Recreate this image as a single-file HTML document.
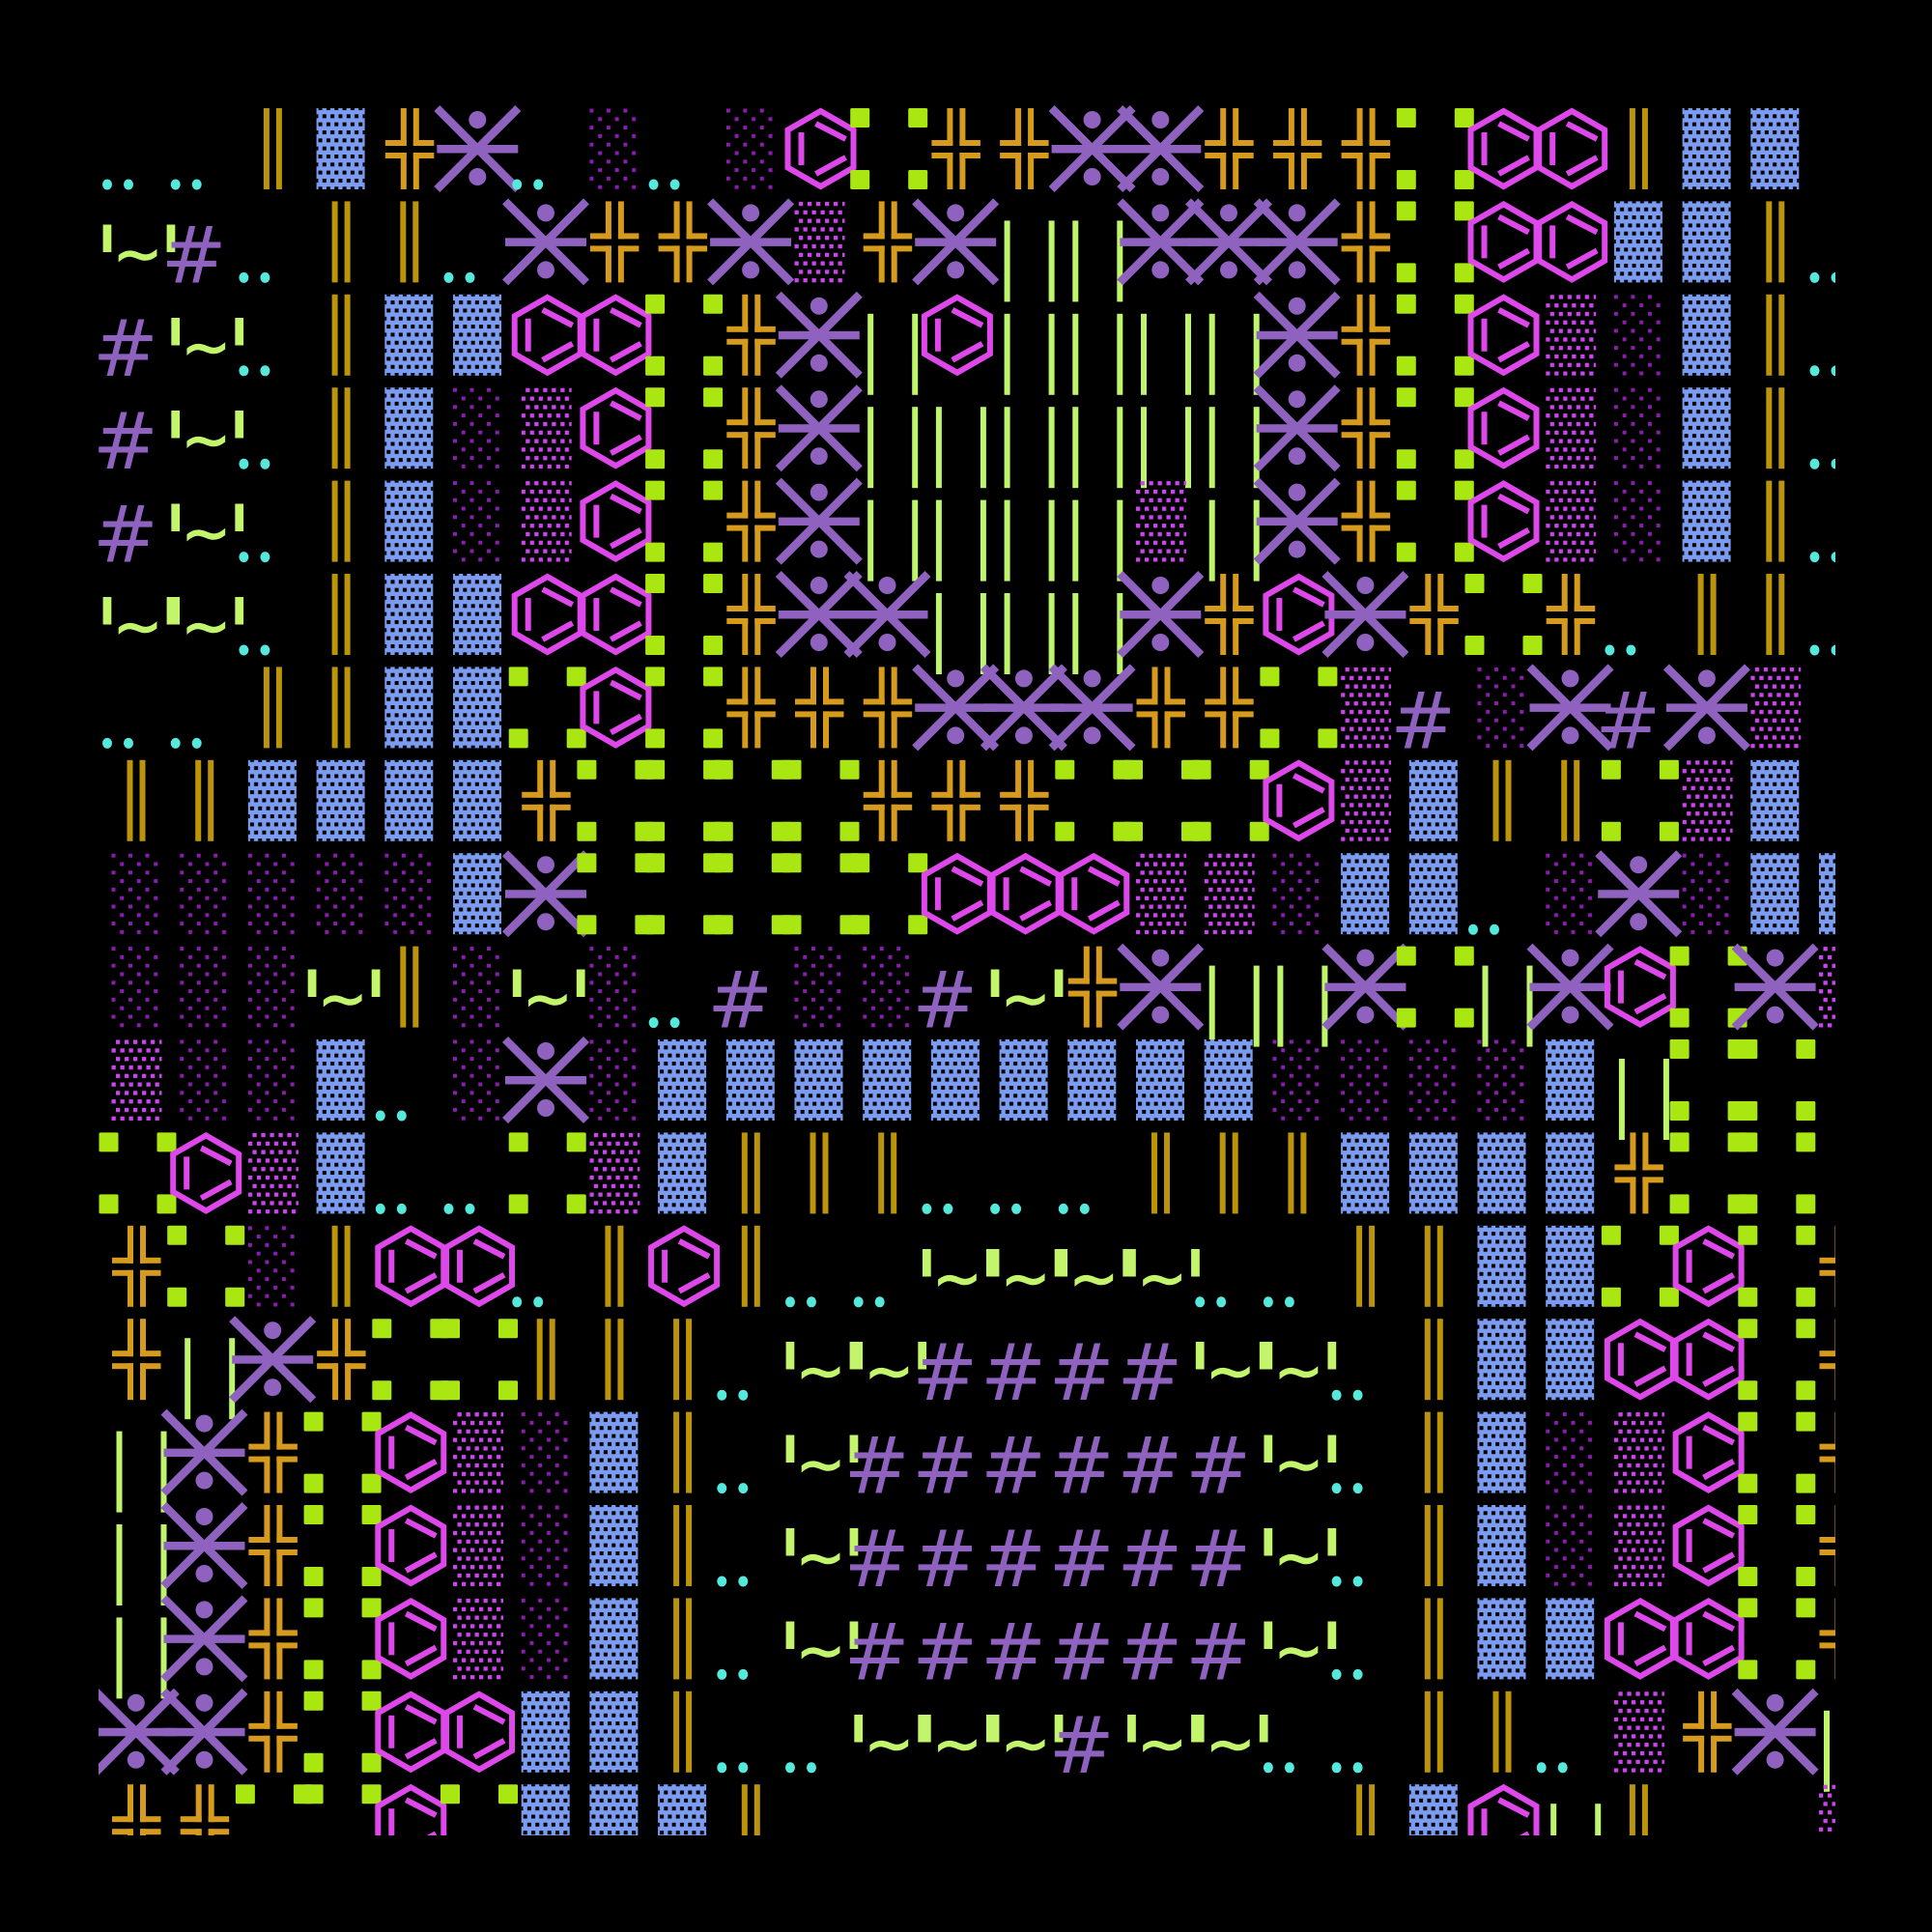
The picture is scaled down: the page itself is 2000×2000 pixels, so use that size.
<!DOCTYPE html>
<html><head><meta charset="utf-8"><style>
html,body{margin:0;padding:0;background:#000;}
svg{display:block}
.k{font-family:"DejaVu Sans","Liberation Sans",sans-serif;font-size:81px;fill:#8f62bf}
.a{font-family:"DejaVu Sans","Liberation Sans",sans-serif;font-size:105px;fill:#c3f56c}
.w{font-family:"DejaVu Sans","Liberation Sans",sans-serif;font-size:61px;fill:#c3f56c;stroke:#c3f56c;stroke-width:1.5}
</style></head><body>
<svg width="2000" height="2000" viewBox="0 0 2000 2000" xmlns="http://www.w3.org/2000/svg" xmlns:xlink="http://www.w3.org/1999/xlink">
<defs>
<clipPath id="cl"><rect x="102" y="99" width="1798" height="1801"/></clipPath>
<pattern id="pb" x="10" y="-2" width="8.33" height="16.66" patternUnits="userSpaceOnUse">
<rect x="2" y="0" width="4" height="4" fill="#000"/><rect x="6.2" y="8.33" width="4" height="4" fill="#000"/><rect x="-2.13" y="8.33" width="4" height="4" fill="#000"/>
</pattern>
<pattern id="pm" x="10" y="0" width="9" height="17.6" patternUnits="userSpaceOnUse">
<rect x="4.5" y="0.5" width="4.3" height="4.3" fill="#cc44ee"/><rect x="0" y="9.3" width="4.3" height="4.3" fill="#cc44ee"/>
</pattern>
<pattern id="pp" x="10" y="0" width="17.5" height="17.6" patternUnits="userSpaceOnUse">
<rect x="0" y="0.5" width="4" height="4" fill="#8a1cae"/><rect x="8.75" y="9.3" width="4" height="4" fill="#8a1cae"/>
</pattern>
<g id="o"><rect x="26" y="0" width="6" height="84" fill="#bb940a"/><rect x="39" y="0" width="6" height="84" fill="#bb940a"/></g>
<g id="b"><rect x="10" y="0" width="50" height="84" fill="#7b9cf0"/><rect x="10" y="0" width="50" height="84" fill="url(#pb)"/></g>
<g id="x" fill="#d69a1c"><rect x="26.5" y="0" width="6" height="39"/><rect x="10.5" y="33" width="22" height="6"/><rect x="39.5" y="0" width="6" height="39"/><rect x="39.5" y="33" width="21.5" height="6"/><rect x="10.5" y="46" width="22" height="6"/><rect x="26.5" y="46" width="6" height="38"/><rect x="39.5" y="46" width="21.5" height="6"/><rect x="39.5" y="46" width="6" height="38"/></g>
<g id="s" fill="#8f62bf"><path d="M-6.7 0L77.3 84M77.3 0L-6.7 84" stroke="#8f62bf" stroke-width="8.5"/><rect x="-6.7" y="38" width="84" height="8.5"/><circle cx="35.3" cy="12" r="9"/><circle cx="35.3" cy="71" r="9"/></g>
<g id="h" fill="none" stroke="#de48ea" stroke-width="6"><polygon points="37,3 71,22.5 71,61.5 37,81 3,61.5 3,22.5"/><path d="M17 25V59M32 16L63 32M32 68L63 51"/></g>
<g id="g" fill="#aae612"><rect x="-3" y="0" width="20" height="20" rx="1.5"/><rect x="57" y="0" width="20" height="20" rx="1.5"/><rect x="-3" y="64" width="20" height="20" rx="1.5"/><rect x="57" y="64" width="20" height="20" rx="1.5"/></g>
<g id="l" fill="#bff56c"><rect x="15" y="20" width="6" height="84"/><rect x="61" y="20" width="6" height="84"/></g>
<g id="d" fill="#55e8dc"><ellipse cx="5.5" cy="79" rx="5" ry="5.5"/><ellipse cx="27.5" cy="79" rx="5" ry="5.5"/></g>
<g id="m"><rect x="10" y="0" width="52" height="84" fill="url(#pm)"/></g>
<g id="p"><rect x="10" y="0" width="52" height="84" fill="url(#pp)"/></g>
</defs>
<rect width="2000" height="2000" fill="#000"/>
<g clip-path="url(#cl)">
<g transform="translate(0,112)">
<use href="#d" x="105.5"/><use href="#d" x="176.2"/><use href="#o" x="246.9"/><use href="#b" x="317.6"/><use href="#x" x="388.3"/><use href="#s" x="459"/><use href="#d" x="529.7"/><use href="#p" x="600.4"/><use href="#d" x="671.1"/><use href="#p" x="741.8"/><use href="#h" x="812.5"/><use href="#g" x="883.2"/><use href="#x" x="953.9"/><use href="#x" x="1024.6"/><use href="#s" x="1095.3"/><use href="#s" x="1166"/><use href="#x" x="1236.7"/><use href="#x" x="1307.4"/><use href="#x" x="1378.1"/><use href="#g" x="1448.8"/><use href="#h" x="1519.5"/><use href="#h" x="1590.2"/><use href="#o" x="1660.9"/><use href="#b" x="1731.6"/><use href="#b" x="1802.3"/>
</g>
<g transform="translate(0,208.4)">
<use href="#d" x="246.9"/><use href="#o" x="317.6"/><use href="#o" x="388.3"/><use href="#d" x="459"/><use href="#s" x="529.7"/><use href="#x" x="600.4"/><use href="#x" x="671.1"/><use href="#s" x="741.8"/><use href="#m" x="812.5"/><use href="#x" x="883.2"/><use href="#s" x="953.9"/><use href="#l" x="1024.6"/><use href="#l" x="1095.3"/><use href="#s" x="1166"/><use href="#s" x="1236.7"/><use href="#s" x="1307.4"/><use href="#x" x="1378.1"/><use href="#g" x="1448.8"/><use href="#h" x="1519.5"/><use href="#h" x="1590.2"/><use href="#b" x="1660.9"/><use href="#b" x="1731.6"/><use href="#o" x="1802.3"/><use href="#d" x="1873"/>
<text class="a" x="96.5 162.5" y="101">''</text><text class="w" x="117" y="75">~</text><text class="k" x="166.7" y="84">#</text>
</g>
<g transform="translate(0,304.8)">
<use href="#d" x="246.9"/><use href="#o" x="317.6"/><use href="#b" x="388.3"/><use href="#b" x="459"/><use href="#h" x="529.7"/><use href="#h" x="600.4"/><use href="#g" x="671.1"/><use href="#x" x="741.8"/><use href="#s" x="812.5"/><use href="#l" x="883.2"/><use href="#h" x="953.9"/><use href="#l" x="1024.6"/><use href="#l" x="1095.3"/><use href="#l" x="1166"/><use href="#l" x="1236.7"/><use href="#s" x="1307.4"/><use href="#x" x="1378.1"/><use href="#g" x="1448.8"/><use href="#h" x="1519.5"/><use href="#m" x="1590.2"/><use href="#p" x="1660.9"/><use href="#b" x="1731.6"/><use href="#o" x="1802.3"/><use href="#d" x="1873"/>
<text class="k" x="96" y="84">#</text><text class="a" x="167.2 233.2" y="101">''</text><text class="w" x="187.7" y="75">~</text>
</g>
<g transform="translate(0,401.2)">
<use href="#d" x="246.9"/><use href="#o" x="317.6"/><use href="#b" x="388.3"/><use href="#p" x="459"/><use href="#m" x="529.7"/><use href="#h" x="600.4"/><use href="#g" x="671.1"/><use href="#x" x="741.8"/><use href="#s" x="812.5"/><use href="#l" x="883.2"/><use href="#l" x="953.9"/><use href="#l" x="1024.6"/><use href="#l" x="1095.3"/><use href="#l" x="1166"/><use href="#l" x="1236.7"/><use href="#s" x="1307.4"/><use href="#x" x="1378.1"/><use href="#g" x="1448.8"/><use href="#h" x="1519.5"/><use href="#m" x="1590.2"/><use href="#p" x="1660.9"/><use href="#b" x="1731.6"/><use href="#o" x="1802.3"/><use href="#d" x="1873"/>
<text class="k" x="96" y="84">#</text><text class="a" x="167.2 233.2" y="101">''</text><text class="w" x="187.7" y="75">~</text>
</g>
<g transform="translate(0,497.6)">
<use href="#d" x="246.9"/><use href="#o" x="317.6"/><use href="#b" x="388.3"/><use href="#p" x="459"/><use href="#m" x="529.7"/><use href="#h" x="600.4"/><use href="#g" x="671.1"/><use href="#x" x="741.8"/><use href="#s" x="812.5"/><use href="#l" x="883.2"/><use href="#l" x="953.9"/><use href="#l" x="1024.6"/><use href="#l" x="1095.3"/><use href="#m" x="1166"/><use href="#l" x="1236.7"/><use href="#s" x="1307.4"/><use href="#x" x="1378.1"/><use href="#g" x="1448.8"/><use href="#h" x="1519.5"/><use href="#m" x="1590.2"/><use href="#p" x="1660.9"/><use href="#b" x="1731.6"/><use href="#o" x="1802.3"/><use href="#d" x="1873"/>
<text class="k" x="96" y="84">#</text><text class="a" x="167.2 233.2" y="101">''</text><text class="w" x="187.7" y="75">~</text>
</g>
<g transform="translate(0,594)">
<use href="#d" x="246.9"/><use href="#o" x="317.6"/><use href="#b" x="388.3"/><use href="#b" x="459"/><use href="#h" x="529.7"/><use href="#h" x="600.4"/><use href="#g" x="671.1"/><use href="#x" x="741.8"/><use href="#s" x="812.5"/><use href="#s" x="883.2"/><use href="#l" x="953.9"/><use href="#l" x="1024.6"/><use href="#l" x="1095.3"/><use href="#s" x="1166"/><use href="#x" x="1236.7"/><use href="#h" x="1307.4"/><use href="#s" x="1378.1"/><use href="#x" x="1448.8"/><use href="#g" x="1519.5"/><use href="#x" x="1590.2"/><use href="#d" x="1660.9"/><use href="#o" x="1731.6"/><use href="#o" x="1802.3"/><use href="#d" x="1873"/>
<text class="a" x="96.5 162.5 167.2 233.2" y="101">''''</text><text class="w" x="117 187.7" y="75">~~</text>
</g>
<g transform="translate(0,690.4)">
<use href="#d" x="105.5"/><use href="#d" x="176.2"/><use href="#o" x="246.9"/><use href="#o" x="317.6"/><use href="#b" x="388.3"/><use href="#b" x="459"/><use href="#g" x="529.7"/><use href="#h" x="600.4"/><use href="#g" x="671.1"/><use href="#x" x="741.8"/><use href="#x" x="812.5"/><use href="#x" x="883.2"/><use href="#s" x="953.9"/><use href="#s" x="1024.6"/><use href="#s" x="1095.3"/><use href="#x" x="1166"/><use href="#x" x="1236.7"/><use href="#g" x="1307.4"/><use href="#m" x="1378.1"/><use href="#p" x="1519.5"/><use href="#s" x="1590.2"/><use href="#s" x="1731.6"/><use href="#m" x="1802.3"/>
<text class="k" x="1439.3 1651.4" y="84">##</text>
</g>
<g transform="translate(0,786.8)">
<use href="#o" x="105.5"/><use href="#o" x="176.2"/><use href="#b" x="246.9"/><use href="#b" x="317.6"/><use href="#b" x="388.3"/><use href="#b" x="459"/><use href="#x" x="529.7"/><use href="#g" x="600.4"/><use href="#g" x="671.1"/><use href="#g" x="741.8"/><use href="#g" x="812.5"/><use href="#x" x="883.2"/><use href="#x" x="953.9"/><use href="#x" x="1024.6"/><use href="#g" x="1095.3"/><use href="#g" x="1166"/><use href="#g" x="1236.7"/><use href="#h" x="1307.4"/><use href="#m" x="1378.1"/><use href="#b" x="1448.8"/><use href="#o" x="1519.5"/><use href="#o" x="1590.2"/><use href="#g" x="1660.9"/><use href="#m" x="1731.6"/><use href="#b" x="1802.3"/>
</g>
<g transform="translate(0,883.2)">
<use href="#p" x="105.5"/><use href="#p" x="176.2"/><use href="#p" x="246.9"/><use href="#p" x="317.6"/><use href="#p" x="388.3"/><use href="#b" x="459"/><use href="#s" x="529.7"/><use href="#g" x="600.4"/><use href="#g" x="671.1"/><use href="#g" x="741.8"/><use href="#g" x="812.5"/><use href="#g" x="883.2"/><use href="#h" x="953.9"/><use href="#h" x="1024.6"/><use href="#h" x="1095.3"/><use href="#m" x="1166"/><use href="#m" x="1236.7"/><use href="#p" x="1307.4"/><use href="#b" x="1378.1"/><use href="#b" x="1448.8"/><use href="#d" x="1519.5"/><use href="#p" x="1590.2"/><use href="#s" x="1660.9"/><use href="#p" x="1731.6"/><use href="#b" x="1802.3"/><use href="#b" x="1873"/>
</g>
<g transform="translate(0,979.6)">
<use href="#p" x="105.5"/><use href="#p" x="176.2"/><use href="#p" x="246.9"/><use href="#o" x="388.3"/><use href="#p" x="459"/><use href="#p" x="600.4"/><use href="#d" x="671.1"/><use href="#p" x="812.5"/><use href="#p" x="883.2"/><use href="#x" x="1095.3"/><use href="#s" x="1166"/><use href="#l" x="1236.7"/><use href="#l" x="1307.4"/><use href="#s" x="1378.1"/><use href="#g" x="1448.8"/><use href="#l" x="1519.5"/><use href="#s" x="1590.2"/><use href="#h" x="1660.9"/><use href="#g" x="1731.6"/><use href="#s" x="1802.3"/><use href="#m" x="1873"/>
<text class="a" x="308.6 374.6 520.7 586.7 1015.6 1081.6" y="101">''''''</text><text class="w" x="329.1 541.2 1036.1" y="75">~~~</text><text class="k" x="732.3 944.4" y="84">##</text>
</g>
<g transform="translate(0,1076)">
<use href="#m" x="105.5"/><use href="#p" x="176.2"/><use href="#p" x="246.9"/><use href="#b" x="317.6"/><use href="#d" x="388.3"/><use href="#p" x="459"/><use href="#s" x="529.7"/><use href="#p" x="600.4"/><use href="#b" x="671.1"/><use href="#b" x="741.8"/><use href="#b" x="812.5"/><use href="#b" x="883.2"/><use href="#b" x="953.9"/><use href="#b" x="1024.6"/><use href="#b" x="1095.3"/><use href="#b" x="1166"/><use href="#b" x="1236.7"/><use href="#p" x="1307.4"/><use href="#p" x="1378.1"/><use href="#p" x="1448.8"/><use href="#p" x="1519.5"/><use href="#b" x="1590.2"/><use href="#l" x="1660.9"/><use href="#g" x="1731.6"/><use href="#g" x="1802.3"/>
</g>
<g transform="translate(0,1172.4)">
<use href="#g" x="105.5"/><use href="#h" x="176.2"/><use href="#m" x="246.9"/><use href="#b" x="317.6"/><use href="#d" x="388.3"/><use href="#d" x="459"/><use href="#g" x="529.7"/><use href="#m" x="600.4"/><use href="#b" x="671.1"/><use href="#o" x="741.8"/><use href="#o" x="812.5"/><use href="#o" x="883.2"/><use href="#d" x="953.9"/><use href="#d" x="1024.6"/><use href="#d" x="1095.3"/><use href="#o" x="1166"/><use href="#o" x="1236.7"/><use href="#o" x="1307.4"/><use href="#b" x="1378.1"/><use href="#b" x="1448.8"/><use href="#b" x="1519.5"/><use href="#b" x="1590.2"/><use href="#x" x="1660.9"/><use href="#g" x="1731.6"/><use href="#g" x="1802.3"/>
</g>
<g transform="translate(0,1268.8)">
<use href="#x" x="105.5"/><use href="#g" x="176.2"/><use href="#p" x="246.9"/><use href="#o" x="317.6"/><use href="#h" x="388.3"/><use href="#h" x="459"/><use href="#d" x="529.7"/><use href="#o" x="600.4"/><use href="#h" x="671.1"/><use href="#o" x="741.8"/><use href="#d" x="812.5"/><use href="#d" x="883.2"/><use href="#d" x="1236.7"/><use href="#d" x="1307.4"/><use href="#o" x="1378.1"/><use href="#o" x="1448.8"/><use href="#b" x="1519.5"/><use href="#b" x="1590.2"/><use href="#g" x="1660.9"/><use href="#h" x="1731.6"/><use href="#g" x="1802.3"/><use href="#x" x="1873"/>
<text class="a" x="944.9 1010.9 1015.6 1081.6 1086.3 1152.3 1157 1223" y="101">''''''''</text><text class="w" x="965.4 1036.1 1106.8 1177.5" y="75">~~~~</text>
</g>
<g transform="translate(0,1365.2)">
<use href="#x" x="105.5"/><use href="#l" x="176.2"/><use href="#s" x="246.9"/><use href="#x" x="317.6"/><use href="#g" x="388.3"/><use href="#g" x="459"/><use href="#o" x="529.7"/><use href="#o" x="600.4"/><use href="#o" x="671.1"/><use href="#d" x="741.8"/><use href="#d" x="1378.1"/><use href="#o" x="1448.8"/><use href="#b" x="1519.5"/><use href="#b" x="1590.2"/><use href="#h" x="1660.9"/><use href="#h" x="1731.6"/><use href="#g" x="1802.3"/><use href="#x" x="1873"/>
<text class="a" x="803.5 869.5 874.2 940.2 1227.7 1293.7 1298.4 1364.4" y="101">''''''''</text><text class="w" x="824 894.7 1248.2 1318.9" y="75">~~~~</text><text class="k" x="944.4 1015.1 1085.8 1156.5" y="84">####</text>
</g>
<g transform="translate(0,1461.6)">
<use href="#l" x="105.5"/><use href="#s" x="176.2"/><use href="#x" x="246.9"/><use href="#g" x="317.6"/><use href="#h" x="388.3"/><use href="#m" x="459"/><use href="#p" x="529.7"/><use href="#b" x="600.4"/><use href="#o" x="671.1"/><use href="#d" x="741.8"/><use href="#d" x="1378.1"/><use href="#o" x="1448.8"/><use href="#b" x="1519.5"/><use href="#p" x="1590.2"/><use href="#m" x="1660.9"/><use href="#h" x="1731.6"/><use href="#g" x="1802.3"/><use href="#x" x="1873"/>
<text class="a" x="803.5 869.5 1298.4 1364.4" y="101">''''</text><text class="w" x="824 1318.9" y="75">~~</text><text class="k" x="873.7 944.4 1015.1 1085.8 1156.5 1227.2" y="84">######</text>
</g>
<g transform="translate(0,1558)">
<use href="#l" x="105.5"/><use href="#s" x="176.2"/><use href="#x" x="246.9"/><use href="#g" x="317.6"/><use href="#h" x="388.3"/><use href="#m" x="459"/><use href="#p" x="529.7"/><use href="#b" x="600.4"/><use href="#o" x="671.1"/><use href="#d" x="741.8"/><use href="#d" x="1378.1"/><use href="#o" x="1448.8"/><use href="#b" x="1519.5"/><use href="#p" x="1590.2"/><use href="#m" x="1660.9"/><use href="#h" x="1731.6"/><use href="#g" x="1802.3"/><use href="#x" x="1873"/>
<text class="a" x="803.5 869.5 1298.4 1364.4" y="101">''''</text><text class="w" x="824 1318.9" y="75">~~</text><text class="k" x="873.7 944.4 1015.1 1085.8 1156.5 1227.2" y="84">######</text>
</g>
<g transform="translate(0,1654.4)">
<use href="#l" x="105.5"/><use href="#s" x="176.2"/><use href="#x" x="246.9"/><use href="#g" x="317.6"/><use href="#h" x="388.3"/><use href="#m" x="459"/><use href="#p" x="529.7"/><use href="#b" x="600.4"/><use href="#o" x="671.1"/><use href="#d" x="741.8"/><use href="#d" x="1378.1"/><use href="#o" x="1448.8"/><use href="#b" x="1519.5"/><use href="#b" x="1590.2"/><use href="#h" x="1660.9"/><use href="#h" x="1731.6"/><use href="#g" x="1802.3"/><use href="#x" x="1873"/>
<text class="a" x="803.5 869.5 1298.4 1364.4" y="101">''''</text><text class="w" x="824 1318.9" y="75">~~</text><text class="k" x="873.7 944.4 1015.1 1085.8 1156.5 1227.2" y="84">######</text>
</g>
<g transform="translate(0,1750.8)">
<use href="#s" x="105.5"/><use href="#s" x="176.2"/><use href="#x" x="246.9"/><use href="#g" x="317.6"/><use href="#h" x="388.3"/><use href="#h" x="459"/><use href="#b" x="529.7"/><use href="#b" x="600.4"/><use href="#o" x="671.1"/><use href="#d" x="741.8"/><use href="#d" x="812.5"/><use href="#d" x="1307.4"/><use href="#d" x="1378.1"/><use href="#o" x="1448.8"/><use href="#o" x="1519.5"/><use href="#d" x="1590.2"/><use href="#m" x="1660.9"/><use href="#x" x="1731.6"/><use href="#s" x="1802.3"/><use href="#l" x="1873"/>
<text class="a" x="874.2 940.2 944.9 1010.9 1015.6 1081.6 1157 1223 1227.7 1293.7" y="101">''''''''''</text><text class="w" x="894.7 965.4 1036.1 1177.5 1248.2" y="75">~~~~~</text><text class="k" x="1085.8" y="84">#</text>
</g>
<g transform="translate(0,1847.2)">
<use href="#x" x="105.5"/><use href="#x" x="176.2"/><use href="#g" x="246.9"/><use href="#g" x="317.6"/><use href="#h" x="388.3"/><use href="#g" x="459"/><use href="#b" x="529.7"/><use href="#b" x="600.4"/><use href="#b" x="671.1"/><use href="#o" x="741.8"/><use href="#o" x="1378.1"/><use href="#b" x="1448.8"/><use href="#h" x="1519.5"/><use href="#l" x="1590.2"/><use href="#o" x="1660.9"/><use href="#m" x="1873"/>
</g>
</g>
</svg>
</body></html>
